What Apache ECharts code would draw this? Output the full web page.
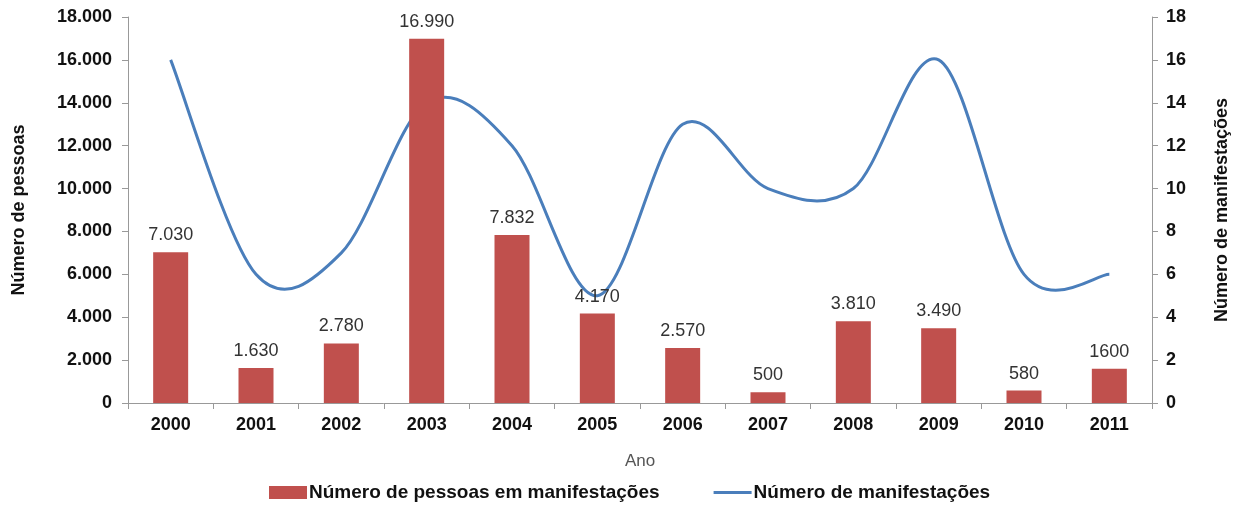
<!DOCTYPE html>
<html>
<head>
<meta charset="utf-8">
<script src="https://cdn.jsdelivr.net/npm/echarts@6/dist/echarts.min.js"></script>
<style>
  html, body { margin: 0; padding: 0; background: #fff; }
  #main { width: 1240px; height: 507px; }
</style>
</head>
<body>
<div id="main"></div>
<script>
var anos = ['2000', '2001', '2002', '2003', '2004', '2005', '2006', '2007', '2008', '2009', '2010', '2011'];
var pessoas = [7030, 1630, 2780, 16990, 7832, 4170, 2570, 500, 3810, 3490, 580, 1600];
var pessoasRotulos = ['7.030', '1.630', '2.780', '16.990', '7.832', '4.170', '2.570', '500', '3.810', '3.490', '580', '1600'];
var manifestacoes = [16, 6, 7, 14, 12, 5, 13, 10, 10, 16, 6, 6];
var ticksPessoas = ['0', '2.000', '4.000', '6.000', '8.000', '10.000', '12.000', '14.000', '16.000', '18.000'];

var myChart = echarts.init(document.getElementById('main'));
var fonte = 'Liberation Sans, Arial, sans-serif';
var azul = '#4A7EBB';

// linha suavizada estilo Excel (spline de Catmull-Rom) sobre os pontos do eixo
function curvaSuave(params, api) {
  if (params.dataIndex !== 0) return null;
  var pts = manifestacoes.map(function (v, i) { return api.coord([i, v]); });
  var n = pts.length;
  var d = 'M' + pts[0][0] + ',' + pts[0][1];
  for (var i = 0; i < n - 1; i++) {
    var p0 = pts[Math.max(i - 1, 0)], p1 = pts[i], p2 = pts[i + 1], p3 = pts[Math.min(i + 2, n - 1)];
    var c1x = p1[0] + (p2[0] - p0[0]) / 6, c1y = p1[1] + (p2[1] - p0[1]) / 6;
    var c2x = p2[0] - (p3[0] - p1[0]) / 6, c2y = p2[1] - (p3[1] - p1[1]) / 6;
    d += ' C' + c1x + ',' + c1y + ' ' + c2x + ',' + c2y + ' ' + p2[0] + ',' + p2[1];
  }
  return {
    type: 'path',
    shape: { pathData: d },
    style: { fill: null, stroke: azul, lineWidth: 3 }
  };
}

var option = {
  animation: false,
  textStyle: { fontFamily: fonte },
  grid: { left: 128, right: 88, top: 17, bottom: 104, outerBoundsMode: 'none', containLabel: false },
  legend: {
    bottom: 0,
    left: 264,
    itemGap: 54,
    itemWidth: 38,
    itemHeight: 13,
    textStyle: { fontSize: 19, fontWeight: 'bold', color: '#111', fontFamily: fonte, padding: [0, 0, 0, -3] },
    data: [
      { name: 'Número de pessoas em manifestações', icon: 'rect' },
      { name: 'Número de manifestações', icon: 'path://M0,0L0.01,0Z M0,13L0.01,13Z M0,5L38,5L38,8L0,8Z' }
    ]
  },
  xAxis: {
    type: 'category',
    data: anos,
    name: 'Ano',
    nameLocation: 'middle',
    nameGap: 50,
    nameMoveOverlap: false,
    nameTextStyle: { fontSize: 17, color: '#555' },
    axisLine: { lineStyle: { color: '#999' } },
    axisTick: { show: true, length: 6, lineStyle: { color: '#999' } },
    axisLabel: { fontSize: 18, fontWeight: 'bold', color: '#111', margin: 13 }
  },
  yAxis: [
    {
      type: 'value',
      min: 0, max: 18000, interval: 2000,
      name: 'Número de pessoas',
      nameLocation: 'middle',
      nameRotate: 90,
      nameGap: 100,
      nameMoveOverlap: false,
      nameTextStyle: { fontSize: 18, fontWeight: 'bold', color: '#111' },
      axisLine: { show: true, lineStyle: { color: '#999' } },
      axisTick: { show: true, length: 6, lineStyle: { color: '#999' } },
      splitLine: { show: false },
      axisLabel: {
        fontSize: 18, fontWeight: 'bold', color: '#111', margin: 16,
        formatter: function (v) { return ticksPessoas[Math.round(v / 2000)]; }
      }
    },
    {
      type: 'value',
      min: 0, max: 18, interval: 2,
      name: 'Número de manifestações',
      nameLocation: 'middle',
      nameRotate: 90,
      nameGap: 61,
      nameMoveOverlap: false,
      nameTextStyle: { fontSize: 18, fontWeight: 'bold', color: '#111' },
      axisLine: { show: true, lineStyle: { color: '#999' } },
      axisTick: { show: true, length: 6, lineStyle: { color: '#999' } },
      splitLine: { show: false },
      axisLabel: { fontSize: 18, fontWeight: 'bold', color: '#111', margin: 14 }
    }
  ],
  series: [
    {
      name: 'Número de pessoas em manifestações',
      type: 'bar',
      data: pessoas,
      barWidth: 35,
      itemStyle: { color: '#C0504D' },
      label: {
        show: true,
        position: 'top',
        distance: 8,
        fontSize: 18,
        color: '#333',
        formatter: function (p) { return pessoasRotulos[p.dataIndex]; }
      }
    },
    {
      name: 'Número de manifestações',
      type: 'custom',
      yAxisIndex: 1,
      data: manifestacoes.map(function (v, i) { return [i, v]; }),
      encode: { x: 0, y: 1 },
      itemStyle: { color: azul },
      clip: false,
      renderItem: curvaSuave
    }
  ]
};

myChart.setOption(option);
</script>
</body>
</html>
